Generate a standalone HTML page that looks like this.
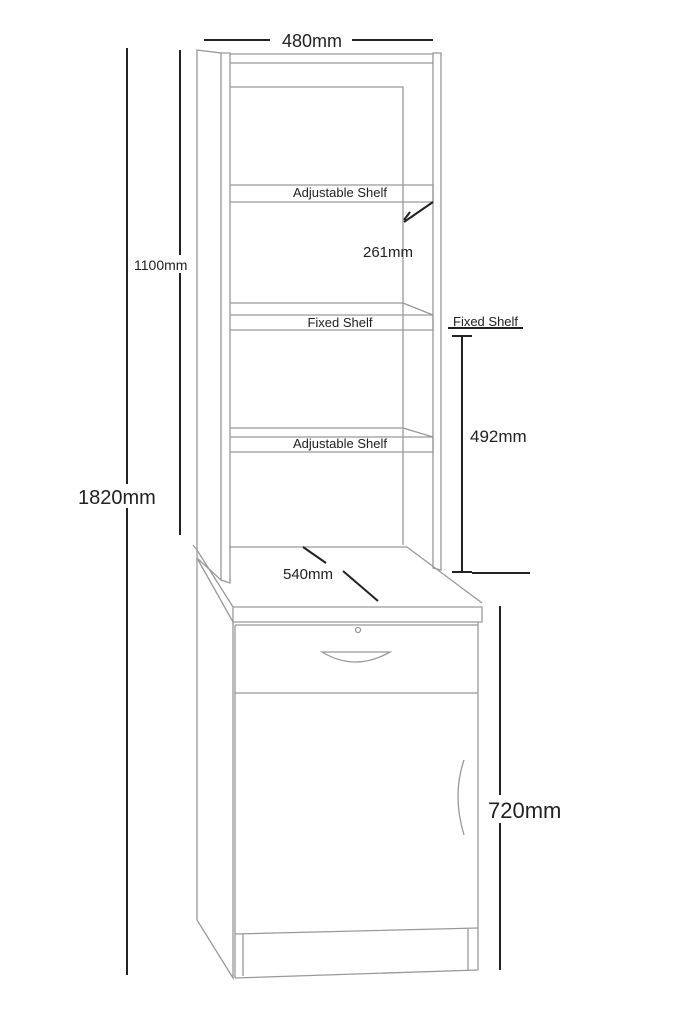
<!DOCTYPE html>
<html><head><style>body{margin:0;background:#fff}svg{display:block}</style></head><body>
<svg width="683" height="1024" viewBox="0 0 683 1024" xmlns="http://www.w3.org/2000/svg" font-family="Liberation Sans, sans-serif">
<g fill="none" stroke="#999" stroke-width="1.3">
<!-- hutch -->
<path d="M197 50 L221 53 L221 580 L197 558 Z"/>
<path d="M221 53 L230 53 L230 583 L221 580"/>
<path d="M433 53 L441 53 L441 570 L433 568 Z"/>
<path d="M230 54 H433 M230 63 H433"/>
<path d="M230 87 H403 V545"/>
<path d="M230 185 H433 V202 H230"/>
<path d="M403 303 H230 M230 315 H433 L403 303 M433 315 V330 H230"/>
<path d="M403 428 H230 M230 437 H433 L403 428 M433 437 V452 H230"/>
<path d="M229 547 H407 L482 603"/>
<!-- desk top -->
<path d="M193 545 L197 550 L233 607 L233 622 L197 558 M233 607 H482 V622 H233"/>
<!-- pedestal -->
<path d="M197 558 V920 L233 978 V622 M478 622 V970"/>
<path d="M235 625 H478 M235 693 H478 M235 625 V978"/>
<path d="M235 934 L478 928 M243 934 V976 M468 929 V970 M235 978 L478 970"/>
<path d="M322 652 Q355 672 390 652 Z"/>
<circle cx="358" cy="630" r="2.5"/>
<path d="M464 760 Q452 795 464 835"/>
</g>
<g stroke="#222" stroke-width="2" fill="none">
<path d="M127 48 V975 M180 50 V535"/>
<path d="M204 40 H270 M352 40 H433"/>
<path d="M462 336 V572 M452 336 H472 M452 572 H472 M472 573 H530"/>
<path d="M500 606 V970"/>
<path d="M433 202 L404 222 M404 220 L410 212"/>
<path d="M303 547 L326 563 M343 571 L378 601"/>
<path d="M448 328 H523"/>
</g>
<g fill="#222">
<text x="312" y="47" font-size="18" text-anchor="middle">480mm</text>
<text x="340" y="197" font-size="13" text-anchor="middle">Adjustable Shelf</text>
<text x="340" y="448" font-size="13" text-anchor="middle">Adjustable Shelf</text>
<text x="340" y="327" font-size="13" text-anchor="middle">Fixed Shelf</text>
<text x="453" y="326" font-size="13">Fixed Shelf</text>
<text x="363" y="257" font-size="15">261mm</text>
<text x="134" y="270" font-size="14" fill="#fff" stroke="none" style="paint-order:stroke">.</text>
<rect x="132" y="255" width="60" height="18" fill="#fff"/>
<text x="134" y="270" font-size="14">1100mm</text>
<rect x="74" y="484" width="90" height="24" fill="#fff"/>
<text x="78" y="504" font-size="20">1820mm</text>
<rect x="470" y="424" width="50" height="22" fill="#fff"/>
<text x="470" y="442" font-size="17">492mm</text>
<text x="283" y="579" font-size="15">540mm</text>
<rect x="488" y="795" width="70" height="28" fill="#fff"/>
<text x="488" y="818" font-size="22">720mm</text>
</g>
</svg>
</body></html>
